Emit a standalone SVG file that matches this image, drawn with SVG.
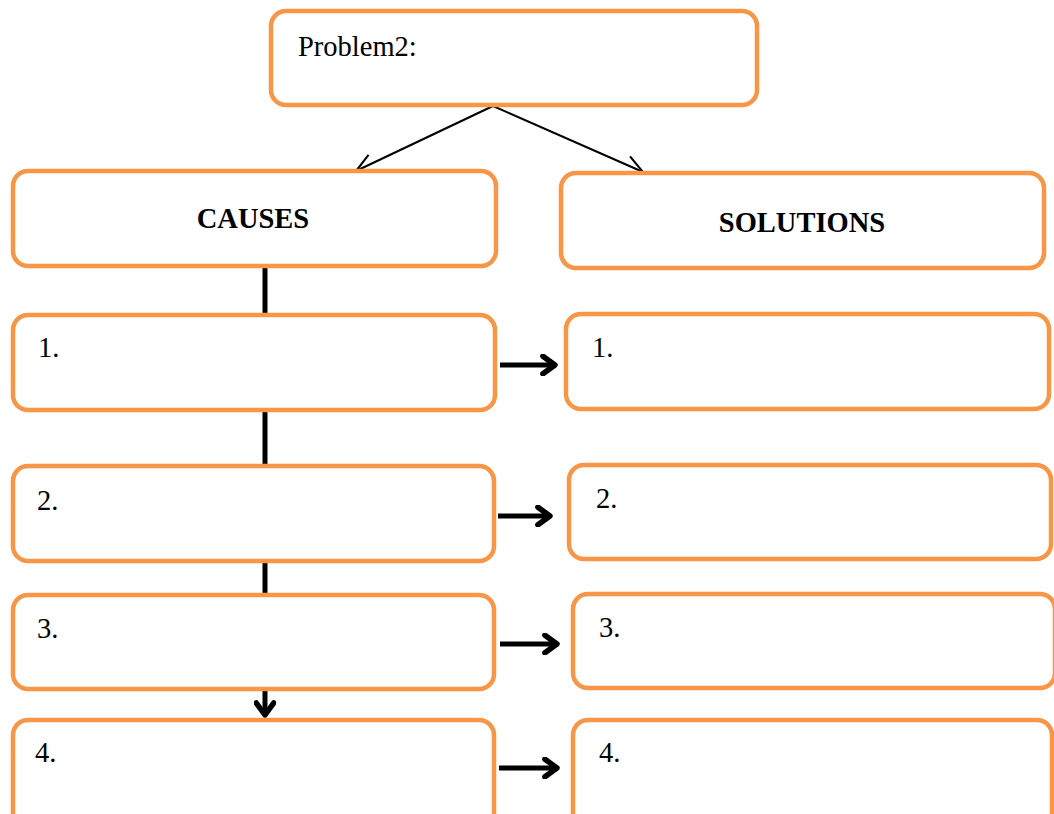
<svg xmlns="http://www.w3.org/2000/svg" width="1054" height="814" viewBox="0 0 1054 814">
<defs>
<style>
.box{fill:#fff;stroke:#F79646;stroke-width:4.5}
.t{font-family:"Liberation Serif",serif;font-size:28.5px;fill:#000}
.b{font-family:"Liberation Serif",serif;font-size:28.5px;font-weight:bold;fill:#000}
.thin{stroke:#000;stroke-width:2;fill:none}
.thick{stroke:#000;stroke-width:5;fill:none}
</style>
<marker id="open" viewBox="0 0 20 20" refX="18" refY="10" markerWidth="26" markerHeight="26" markerUnits="userSpaceOnUse" orient="auto">
<path d="M4,3 L18,10 L4,17" fill="none" stroke="#000" stroke-width="1.6"/>
</marker>
<marker id="thickhead" viewBox="0 0 20 20" refX="16" refY="10" markerWidth="22" markerHeight="22" markerUnits="userSpaceOnUse" orient="auto">
<path d="M5,2 L16,10 L5,18" fill="none" stroke="#000" stroke-width="5" stroke-linecap="round" stroke-linejoin="round"/>
</marker>
</defs>
<rect width="1054" height="814" fill="#fff"/>
<g id="connectors">
<line class="thin" x1="493" y1="106" x2="356" y2="171" marker-end="url(#open)"/>
<line class="thin" x1="493" y1="106" x2="643" y2="172" marker-end="url(#open)"/>
<line class="thick" x1="265" y1="267" x2="265" y2="313"/>
<line class="thick" x1="265" y1="411" x2="265" y2="464"/>
<line class="thick" x1="265" y1="562" x2="265" y2="593"/>
<line class="thick" x1="265" y1="690" x2="265" y2="715" marker-end="url(#thickhead)"/>
<line class="thick" x1="500" y1="365" x2="555" y2="365" marker-end="url(#thickhead)"/>
<line class="thick" x1="498" y1="516" x2="550" y2="516" marker-end="url(#thickhead)"/>
<line class="thick" x1="500" y1="644" x2="557" y2="644" marker-end="url(#thickhead)"/>
<line class="thick" x1="499" y1="768" x2="557" y2="768" marker-end="url(#thickhead)"/>
</g>
<g id="problem"><rect class="box" x="271" y="11" width="486" height="94" rx="15"/><text class="t" x="298" y="56">Problem2:</text></g>
<g id="causes"><rect class="box" x="13" y="171" width="483" height="95" rx="15"/><text class="b" x="253" y="228" text-anchor="middle">CAUSES</text></g>
<g id="solutions"><rect class="box" x="561" y="173" width="483" height="95" rx="15"/><text class="b" x="802" y="232" text-anchor="middle">SOLUTIONS</text></g>
<g id="cause1"><rect class="box" x="13" y="315" width="482" height="95" rx="15"/><text class="t" x="38" y="357">1.</text></g>
<g id="solution1"><rect class="box" x="566" y="314" width="483" height="95" rx="15"/><text class="t" x="592" y="357">1.</text></g>
<g id="cause2"><rect class="box" x="13" y="466" width="481" height="95" rx="15"/><text class="t" x="37" y="510">2.</text></g>
<g id="solution2"><rect class="box" x="569" y="465" width="482" height="94" rx="15"/><text class="t" x="596" y="508">2.</text></g>
<g id="cause3"><rect class="box" x="13" y="595" width="481" height="94" rx="15"/><text class="t" x="37" y="638">3.</text></g>
<g id="solution3"><rect class="box" x="573" y="594" width="482" height="94" rx="15"/><text class="t" x="599" y="637">3.</text></g>
<g id="cause4"><rect class="box" x="13" y="720" width="481" height="110" rx="15"/><text class="t" x="35" y="762">4.</text></g>
<g id="solution4"><rect class="box" x="573" y="720" width="479" height="110" rx="15"/><text class="t" x="599" y="762">4.</text></g>
</svg>
